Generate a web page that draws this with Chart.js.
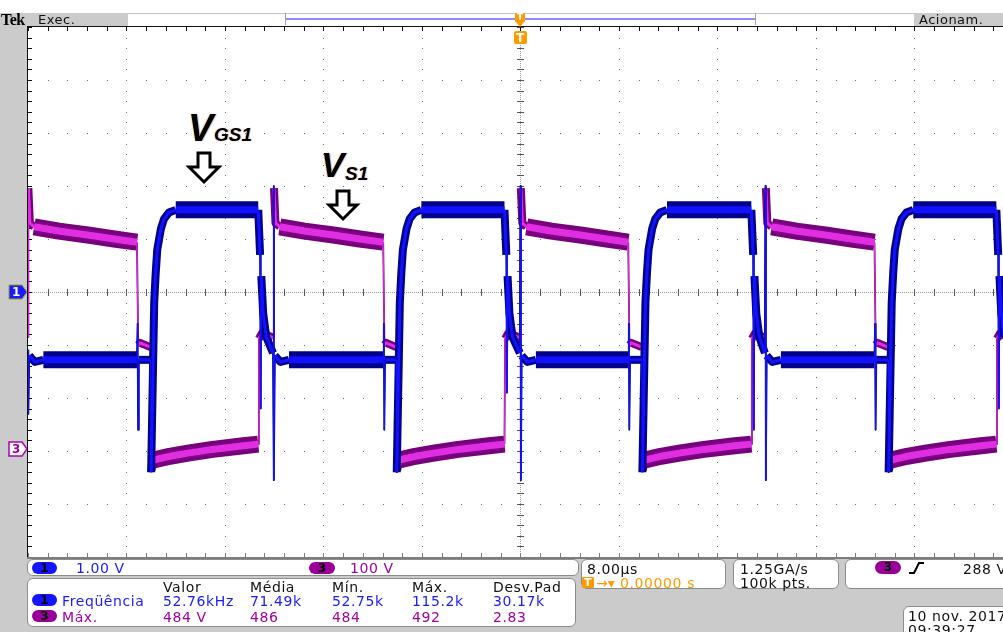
<!DOCTYPE html>
<html lang="pt">
<head>
<meta charset="utf-8">
<title>Tek - VGS1 / VS1</title>
<script src="https://cdn.jsdelivr.net/npm/chart.js@4.4.1/dist/chart.umd.min.js"></script>
<style>
html,body{margin:0;padding:0}
body{width:1003px;height:632px;position:relative;overflow:hidden;background:#cbcbcb;font-family:"DejaVu Sans",sans-serif;}
#topbar{position:absolute;left:0;top:0;width:1003px;height:26px;background:#fff;}
#cv{position:absolute;left:0;top:0;z-index:1;}
#ov{position:absolute;left:0;top:0;z-index:2;}
.box{position:absolute;background:#fff;border:1px solid #8c8c8c;border-radius:6px;box-sizing:border-box;z-index:0;}
.t{position:absolute;white-space:nowrap;font-size:14px;line-height:14px;letter-spacing:0.6px;z-index:3;}
.s{position:absolute;white-space:nowrap;font-size:13px;line-height:13px;letter-spacing:0.5px;z-index:3;}
.pill{position:absolute;border-radius:7px;font-size:12px;line-height:12px;text-align:center;color:#000;font-weight:bold;z-index:3;}
.lbl{position:absolute;white-space:nowrap;font-family:"Liberation Sans",Arial,sans-serif;font-weight:bold;font-style:italic;color:#000;z-index:3;text-shadow:-1px 0 1px rgba(255,150,40,0.45),1px 0 1px rgba(40,60,200,0.35);}
.blue{color:#1a1aff}.purp{color:#a000a0}.org{color:#ff9a00}
</style>
</head>
<body>
<div id="topbar"></div>
<canvas id="cv" width="1003" height="632"></canvas>

<svg id="ov" width="1003" height="632" xmlns="http://www.w3.org/2000/svg">
  <rect x="0" y="13" width="1003" height="1" fill="#c4c4c4"/>
  <rect x="0" y="13" width="128" height="13" fill="#cbcbcb"/>
  <rect x="914" y="13" width="89" height="13" fill="#cbcbcb"/>
  <rect x="285" y="13" width="1" height="12" fill="#a0a0a0"/>
  <rect x="755" y="13" width="1" height="12" fill="#a0a0a0"/>
  <rect x="286" y="18" width="469" height="2" fill="#8c8cff"/>
  <rect x="515" y="13" width="10" height="9" rx="1" fill="#ff9a00"/>
  <polygon points="516,22 524,22 520,27" fill="#ff9a00"/>
  <rect x="514" y="31" width="13" height="13" rx="2" fill="#ff9a00"/>
  <polygon points="9,285 22,285 27,292 22,299 9,299" fill="#1a1aff" stroke="#9c9a30" stroke-width="1"/>
  <polygon points="9,442 22,442 27,449 22,456 9,456" fill="#ffffff" stroke="#b000b0" stroke-width="1.5"/>
  <polygon points="198,153 210,153 210,167 219,167 204,182 189,167 198,167" fill="#fff" stroke="#000" stroke-width="3" stroke-linejoin="miter"/>
  <polygon points="337,191 349,191 349,205 357,205 343,219 329,205 337,205" fill="#fff" stroke="#000" stroke-width="3" stroke-linejoin="miter"/>
  <rect x="582" y="577" width="12" height="11" rx="1" fill="#ff9a00"/>
  <path d="M909,573 L914,573 L919,563 L924,563" fill="none" stroke="#000" stroke-width="2"/>
</svg>

<div class="s" style="left:1px;top:12px;font-family:'Liberation Serif',serif;font-weight:bold;font-size:16px;line-height:15px;letter-spacing:-0.5px">Tek</div>
<div class="s" style="left:38px;top:13px;color:#111">Exec.</div>
<div class="s" style="left:919px;top:13px;color:#111">Acionam.</div>
<div class="s" style="left:517px;top:13px;font-size:9px;line-height:9px;color:#fff;font-weight:bold">T</div>
<div class="s" style="left:516px;top:32px;font-size:12px;line-height:12px;color:#fff;font-weight:bold">T</div>
<div class="s" style="left:12px;top:286px;font-size:12px;line-height:12px;color:#fff;font-weight:bold">1</div>
<div class="s" style="left:12px;top:443px;font-size:12px;line-height:12px;color:#a000a0;font-weight:bold">3</div>

<div class="lbl" style="left:188px;top:109px;font-size:38px;line-height:38px">V</div>
<div class="lbl" style="left:214px;top:125px;font-size:19px;line-height:19px">GS1</div>
<div class="lbl" style="left:321px;top:147px;font-size:35px;line-height:35px">V</div>
<div class="lbl" style="left:345px;top:164px;font-size:19px;line-height:19px">S1</div>

<div class="box" style="left:27px;top:559px;width:552px;height:17px"></div>
<div class="pill" style="left:32px;top:562px;width:25px;height:12px;background:#1414ff">1</div>
<div class="t blue" style="left:76px;top:561px">1.00 V</div>
<div class="pill" style="left:309px;top:562px;width:26px;height:12px;background:#990099">3</div>
<div class="t purp" style="left:350px;top:561px">100 V</div>

<div class="box" style="left:27px;top:578px;width:549px;height:49px"></div>
<div class="t" style="left:163px;top:580px;color:#111">Valor</div>
<div class="t" style="left:250px;top:580px;color:#111">Média</div>
<div class="t" style="left:332px;top:580px;color:#111">Mín.</div>
<div class="t" style="left:412px;top:580px;color:#111">Máx.</div>
<div class="t" style="left:493px;top:580px;color:#111">Desv.Pad</div>

<div class="pill" style="left:32px;top:594px;width:25px;height:12px;background:#1414ff">1</div>
<div class="t blue" style="left:62px;top:594px">Freqüência</div>
<div class="t blue" style="left:163px;top:594px">52.76kHz</div>
<div class="t blue" style="left:250px;top:594px">71.49k</div>
<div class="t blue" style="left:332px;top:594px">52.75k</div>
<div class="t blue" style="left:412px;top:594px">115.2k</div>
<div class="t blue" style="left:493px;top:594px">30.17k</div>

<div class="pill" style="left:32px;top:610px;width:25px;height:12px;background:#990099">3</div>
<div class="t purp" style="left:62px;top:610px">Máx.</div>
<div class="t purp" style="left:163px;top:610px">484 V</div>
<div class="t purp" style="left:250px;top:610px">486</div>
<div class="t purp" style="left:332px;top:610px">484</div>
<div class="t purp" style="left:412px;top:610px">492</div>
<div class="t purp" style="left:493px;top:610px">2.83</div>

<div class="box" style="left:581px;top:559px;width:145px;height:30px"></div>
<div class="t" style="left:587px;top:562px;color:#111">8.00µs</div>
<div class="s" style="left:584px;top:577px;font-size:11px;line-height:11px;color:#fff;font-weight:bold">T</div>
<div class="t org" style="left:596px;top:576px;letter-spacing:0">→▾</div>
<div class="t org" style="left:620px;top:576px">0.00000 s</div>

<div class="box" style="left:733px;top:559px;width:106px;height:30px"></div>
<div class="t" style="left:740px;top:562px;color:#111">1.25GA/s</div>
<div class="t" style="left:740px;top:576px;color:#111">100k pts.</div>

<div class="box" style="left:845px;top:559px;width:175px;height:30px"></div>
<div class="pill" style="left:875px;top:561px;width:26px;height:13px;background:#990099">3</div>
<div class="t" style="left:963px;top:562px;color:#111">288 V</div>

<div class="box" style="left:903px;top:606px;width:115px;height:40px"></div>
<div class="t" style="left:908px;top:609px;color:#111">10 nov. 2017</div>
<div class="t" style="left:908px;top:623px;color:#111">09:39:27</div>

<script>
// ---------- graticule (divisions) ----------
const xDivs = [-40, -32, -24, -16, -8, 0, 8, 16, 24, 32, 40];   // µs, 8.00 µs/div
const yDivs = [-5, -4, -3, -2, -1, 0, 1, 2, 3, 4, 5];            // CH1 volts, 1.00 V/div
const xStep = 8, yStep = 1;

// ---------- CH1 : V_GS1 (V) ----------
const ch1Time = [
  -40.0, -39.97, -39.9, -39.45, -38.75, -31.15,
  -31.1, -31.06, -31.0, -30.05,
  -30.0, -29.75, -29.63, -29.5, -29.2, -28.95, -28.55, -28.0, -21.3,
  -21.15, -21.1, -21.05, -20.9, -20.65, -20.1,
  -20.05, -20.02, -19.95, -19.5, -18.8, -11.15,
  -11.1, -11.06, -11.0, -10.1,
  -10.05, -9.8, -9.68, -9.55, -9.25, -9.0, -8.6, -8.05, -1.3,
  -1.15, -1.1, -1.05, -0.9, -0.65, -0.05,
  0.0, 0.03, 0.1, 0.55, 1.25, 8.75,
  8.8, 8.84, 8.9, 9.85,
  9.9, 10.15, 10.27, 10.4, 10.7, 10.95, 11.35, 11.9, 18.75,
  18.9, 18.95, 19.0, 19.15, 19.4, 19.85,
  19.9, 19.93, 20.0, 20.45, 21.15, 28.75,
  28.8, 28.84, 28.9, 29.85,
  29.9, 30.15, 30.27, 30.4, 30.7, 30.95, 31.35, 31.9, 38.65,
  38.8, 38.85, 38.9, 39.05, 39.3
];
const ch1Volt = [
  -1.1, -2.3, -1.2, -1.32, -1.28, -1.28,
  -0.6, -2.6, -1.28, -1.28,
  -3.4, -0.2, 0.35, 0.8, 1.2, 1.38, 1.5, 1.55, 1.55,
  0.7, -2.2, 0.3, -0.4, -0.85, -1.15,
  2.0, -3.55, -1.2, -1.32, -1.28, -1.28,
  -0.6, -2.6, -1.28, -1.28,
  -3.4, -0.2, 0.35, 0.8, 1.2, 1.38, 1.5, 1.55, 1.55,
  0.7, -1.9, 0.3, -0.4, -0.85, -1.15,
  2.0, -3.55, -1.2, -1.32, -1.28, -1.28,
  -0.6, -2.6, -1.28, -1.28,
  -3.4, -0.2, 0.35, 0.8, 1.2, 1.38, 1.5, 1.55, 1.55,
  0.7, -2.6, 0.3, -0.4, -0.85, -1.15,
  2.0, -3.55, -1.2, -1.32, -1.28, -1.28,
  -0.6, -2.6, -1.28, -1.28,
  -3.4, -0.2, 0.35, 0.8, 1.2, 1.38, 1.5, 1.55, 1.55,
  0.7, -2.2, 0.3, -0.4, -0.85
];

// ---------- CH3 : V_S1 (V) ----------
const ch3Time = [
  -40.0, -39.97, -39.85, -39.5, -37.5, -35.0, -33.0, -31.15,
  -31.05, -30.9, -30.05,
  -29.97, -29.8, -28.5, -27.0, -25.0, -22.5, -21.3,
  -21.25, -21.0, -20.1,
  -20.02, -19.9, -19.55, -17.55, -15.05, -13.05, -11.15,
  -11.05, -10.9, -10.1,
  -10.02, -9.85, -8.55, -7.05, -5.05, -2.55, -1.3,
  -1.25, -1.0, -0.05,
  0.03, 0.15, 0.5, 2.5, 5.0, 7.0, 8.75,
  8.85, 9.0, 9.85,
  9.93, 10.1, 11.4, 12.9, 14.9, 17.4, 18.75,
  18.8, 19.05, 19.85,
  19.93, 20.05, 20.4, 22.4, 24.9, 26.9, 28.75,
  28.85, 29.0, 29.85,
  29.93, 30.1, 31.4, 32.9, 34.9, 37.4, 38.65,
  38.7, 38.95, 39.3
];
const ch3Volt = [
  215, 496, 430, 423, 415, 407, 400, 394,
  200, 204, 196,
  -36, -17, -10, -4, 3, 10, 13,
  212, 222, 214,
  496, 430, 423, 415, 407, 400, 394,
  200, 204, 196,
  -36, -17, -10, -4, 3, 10, 13,
  212, 222, 214,
  496, 430, 423, 415, 407, 400, 394,
  200, 204, 196,
  -36, -17, -10, -4, 3, 10, 13,
  212, 222, 214,
  496, 430, 423, 415, 407, 400, 394,
  200, 204, 196,
  -36, -17, -10, -4, 3, 10, 13,
  212, 222, 216
];

const ch1Pts = ch1Time.map((t, i) => ({x: t, y: ch1Volt[i]}));
const ch3Pts = ch3Time.map((t, i) => ({x: t, y: ch3Volt[i]}));

// persistence look: fast edges thin, settled levels drawn as thick bands
function widthBy(thin, mid, thick) {
  return ctx => {
    const dt = ctx.p1.parsed.x - ctx.p0.parsed.x;
    return dt < 0.105 ? thin : (dt < 0.99 ? mid : thick);
  };
}

const tekGrid = {
  id: 'tekGrid',
  beforeDraw(chart) {
    const {ctx, chartArea: a} = chart;
    ctx.save();
    ctx.fillStyle = '#ffffff';
    ctx.fillRect(a.left, a.top, a.right - a.left, a.bottom - a.top);
    ctx.restore();
  },
  beforeDatasetsDraw(chart) {
    const {ctx, chartArea: a, scales} = chart;
    const sx = scales.x, sy = scales.y1;
    const px = v => Math.round(sx.getPixelForValue(v));
    const py = v => Math.round(sy.getPixelForValue(v));
    const xMinor = [], yMinor = [];
    for (let i = 0; i <= (xDivs.length - 1) * 5; i++) xMinor.push(xDivs[0] + i * xStep / 5);
    for (let j = 0; j <= (yDivs.length - 1) * 5; j++) yMinor.push(yDivs[0] + j * yStep / 5);
    ctx.save();
    ctx.fillStyle = '#6c6c6c';
    xDivs.forEach(xv => { const X = px(xv); yMinor.forEach(yv => ctx.fillRect(X, py(yv), 1, 1)); });
    yDivs.forEach(yv => { const Y = py(yv); xMinor.forEach(xv => ctx.fillRect(px(xv), Y, 1, 1)); });
    const cx = px(0), cy = py(0);
    ctx.fillStyle = '#9a9a9a';
    for (let X = a.left; X < a.right; X += 2) ctx.fillRect(X, cy, 1, 1);
    for (let Y = a.top; Y < a.bottom; Y += 2) ctx.fillRect(cx, Y, 1, 1);
    ctx.fillStyle = '#555';
    xMinor.forEach(xv => ctx.fillRect(px(xv), cy - 3, 1, 7));
    yMinor.forEach(yv => ctx.fillRect(cx - 3, py(yv), 7, 1));
    ctx.fillStyle = '#111';
    ctx.fillRect(a.left, a.top - 1, a.right - a.left, 1);
    ctx.fillRect(a.left - 1, a.top - 1, 1, a.bottom - a.top + 1);
    xMinor.forEach(xv => ctx.fillRect(px(xv), a.top, 1, 4));
    yMinor.forEach(yv => ctx.fillRect(a.left, py(yv), 4, 1));
    ctx.fillStyle = '#7d7d7d';
    ctx.fillRect(a.left - 1, a.bottom, a.right - a.left + 1, 2);
    xMinor.forEach(xv => ctx.fillRect(px(xv), a.bottom - 4, 1, 4));
    ctx.restore();
  }
};

new Chart(document.getElementById('cv'), {
  type: 'line',
  data: {
    datasets: [
      {label: 'CH1 core', data: ch1Pts, yAxisID: 'y1', borderColor: '#1212ff', order: 0,
       segment: {borderWidth: widthBy(1, 3, 7)}},
      {label: 'CH1', data: ch1Pts, yAxisID: 'y1', borderColor: '#000088', order: 1,
       segment: {borderWidth: widthBy(1.8, 8, 17)}},
      {label: 'CH3 core', data: ch3Pts, yAxisID: 'y3', borderColor: '#e22ee2', order: 2,
       segment: {borderWidth: widthBy(1, 3, 7)}},
      {label: 'CH3', data: ch3Pts, yAxisID: 'y3', borderColor: '#78007e', order: 3,
       segment: {borderWidth: widthBy(1.8, 8, 17)}}
    ]
  },
  options: {
    responsive: false,
    devicePixelRatio: 1,
    animation: false,
    layout: {padding: {left: 28, top: 27, right: 0, bottom: 75}},
    elements: {
      point: {radius: 0, hoverRadius: 0},
      line: {tension: 0, borderCapStyle: 'butt', borderJoinStyle: 'round', fill: false}
    },
    datasets: {line: {clip: 0}},
    scales: {
      x: {type: 'linear', min: -40, max: 39.19, display: false},
      y1: {type: 'linear', min: -5, max: 5, display: false},
      y3: {type: 'linear', min: -200, max: 800, display: false}
    },
    plugins: {legend: {display: false}, tooltip: {enabled: false}}
  },
  plugins: [tekGrid]
});
</script>
</body>
</html>
